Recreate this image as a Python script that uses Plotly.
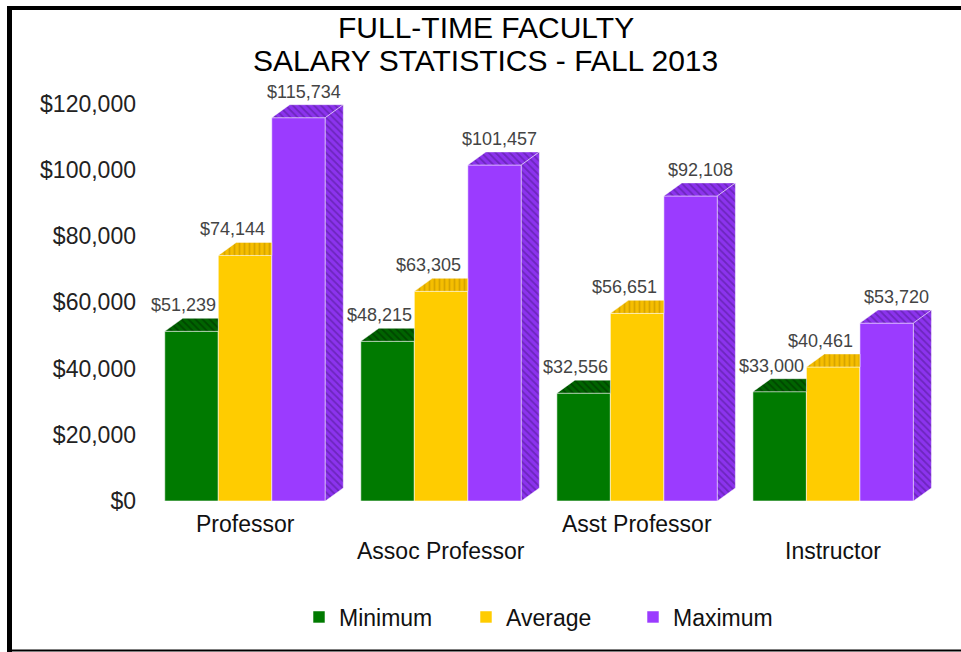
import plotly.graph_objects as go

categories = ["Professor", "Assoc Professor", "Asst Professor", "Instructor"]
series_names = ["Minimum", "Average", "Maximum"]
minimum = [51239, 48215, 32556, 33000]
average = [74144, 63305, 56651, 40461]
maximum = [115734, 101457, 92108, 53720]
y_tick_vals = [0, 20000, 40000, 60000, 80000, 100000, 120000]
y_tick_text = ["$0", "$20,000", "$40,000", "$60,000", "$80,000", "$100,000", "$120,000"]
title_line1 = "FULL-TIME FACULTY"
title_line2 = "SALARY STATISTICS - FALL 2013"

series_values = [minimum, average, maximum]

# geometry (pixels -> data units)
W, H = 961, 652
ML, MR, MT, MB = 147, 20, 87, 151
XR = [-0.5, 3.55]
YR = [0, 125000]
pw = W - ML - MR
ph = H - MT - MB
ux = pw / (XR[1] - XR[0])
uy = ph / (YR[1] - YR[0])
bw = 53.5 / ux
dx = 18 / ux
dy = 13 / uy

FONT = "Liberation Sans, Arial, sans-serif"
front_colors = ["#007A00", "#FFCC00", "#9B3BFF"]
top_bg = ["#006400", "#F5BE00", "#8C33EE"]
top_fg = ["#002A00", "#B88A00", "#4E1A8C"]
top_shape = ["\\", "|", "\\"]
edge = "rgba(255,255,255,0.55)"

fig = go.Figure()
xs = list(range(len(categories)))

# front faces
for i, (name, vals) in enumerate(zip(series_names, series_values)):
    fig.add_trace(go.Bar(
        x=xs, y=vals, name=name, width=bw, offset=(i - 1.5) * bw,
        marker=dict(color=front_colors[i], line=dict(color=edge, width=1)),
        hoverinfo="skip",
    ))

# top faces and visible side faces
for g in xs:
    for i, vals in enumerate(series_values):
        v = vals[g]
        x0 = g + (i - 1.5) * bw
        x1 = x0 + bw
        last = (i == len(series_values) - 1)
        if last:
            tx = [x0, x1, x1 + dx, x0 + dx, x0]
        else:
            tx = [x0, x1, x1, x0 + dx, x0]
        ty = [v, v, v + dy, v + dy, v]
        fig.add_trace(go.Scatter(
            x=tx, y=ty, mode="lines", fill="toself",
            fillcolor=top_bg[i],
            fillpattern=dict(shape=top_shape[i], bgcolor=top_bg[i], fgcolor=top_fg[i],
                             size=5, solidity=0.35),
            line=dict(color=edge, width=0.8), showlegend=False, hoverinfo="skip",
        ))
        if last:
            sx = [x1, x1 + dx, x1 + dx, x1, x1]
            sy = [0, dy, v + dy, v, 0]
            fig.add_trace(go.Scatter(
                x=sx, y=sy, mode="lines", fill="toself",
                fillcolor=top_bg[i],
                fillpattern=dict(shape="\\", bgcolor=top_bg[i], fgcolor=top_fg[i],
                                 size=5, solidity=0.35),
                line=dict(color=edge, width=0.8), showlegend=False, hoverinfo="skip",
            ))

# value labels
label_right_px = [0, -5, 18]
annotations = []
for g in xs:
    for i, vals in enumerate(series_values):
        v = vals[g]
        x1 = g + (i - 0.5) * bw
        annotations.append(dict(
            x=x1 + label_right_px[i] / ux, y=v + dy, xref="x", yref="y",
            text="${:,}".format(v), showarrow=False, xanchor="right", yanchor="bottom",
            yshift=1, font=dict(family=FONT, size=18, color="#444444"),
        ))

# category labels (staggered)
for g, cat in enumerate(categories):
    py = 524 if g % 2 == 0 else 551
    annotations.append(dict(
        x=g, y=(H - MB - py) / ph, xref="x", yref="paper", text=cat, showarrow=False,
        xanchor="center", yanchor="middle",
        font=dict(family=FONT, size=23, color="#111111"),
    ))

# title
for txt, py in [(title_line1, 27), (title_line2, 61)]:
    annotations.append(dict(
        x=(W / 2 + 5 - ML) / pw, y=(H - MB - py) / ph, xref="paper", yref="paper", text=txt,
        showarrow=False, xanchor="center", yanchor="middle",
        font=dict(family=FONT, size=30, color="#000000"),
    ))

def px_x(p):
    return (p - ML) / pw

def px_y(p):
    return (H - MB - p) / ph

shapes = [
    dict(type="line", xref="paper", yref="paper", x0=px_x(7), x1=px_x(965), y0=px_y(8), y1=px_y(8),
         line=dict(color="black", width=4)),
    dict(type="line", xref="paper", yref="paper", x0=px_x(9.5), x1=px_x(9.5), y0=px_y(6), y1=px_y(660),
         line=dict(color="black", width=5)),
    dict(type="line", xref="paper", yref="paper", x0=px_x(7), x1=px_x(965), y0=px_y(650.5), y1=px_y(650.5),
         line=dict(color="black", width=2)),
]

fig.update_layout(
    width=W, height=H,
    margin=dict(l=ML, r=MR, t=MT, b=MB, autoexpand=False),
    paper_bgcolor="white", plot_bgcolor="white",
    barmode="overlay",
    xaxis=dict(range=XR, showgrid=False, zeroline=False, showline=False, showticklabels=False,
               ticks="", fixedrange=True),
    yaxis=dict(range=YR, showgrid=False, zeroline=False, showline=False, tickvals=y_tick_vals,
               ticktext=y_tick_text, ticks="", ticklabelstandoff=10,
               tickfont=dict(family=FONT, size=23, color="#222222")),
    legend=dict(orientation="h", x=px_x(299), y=px_y(617), xanchor="left", yanchor="middle",
                font=dict(family=FONT, size=23, color="#111111"),
                entrywidth=122, entrywidthmode="pixels", traceorder="normal"),
    annotations=annotations,
    shapes=shapes,
    showlegend=True,
)

fig.write_html("out.html", config={"displayModeBar": False},
               post_script="document.body.style.margin='0';document.body.style.padding='0';")
